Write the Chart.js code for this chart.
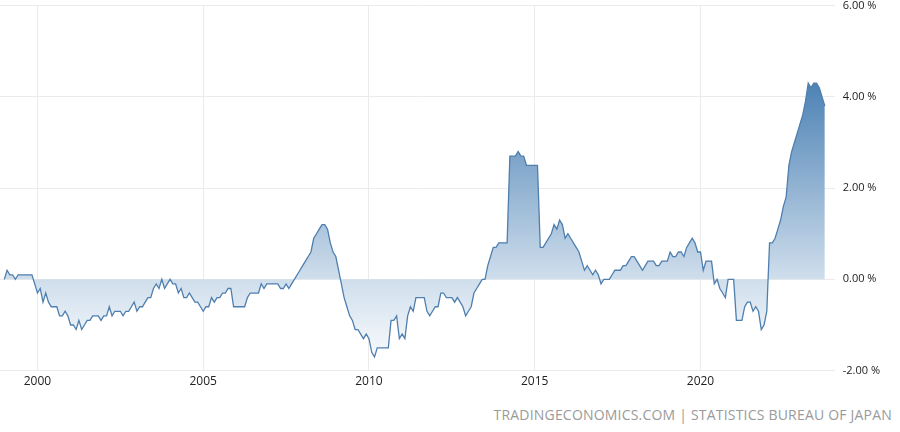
<!DOCTYPE html>
<html>
<head>
<meta charset="utf-8">
<script src="https://cdn.jsdelivr.net/npm/chart.js@4"></script>
<style>
  body { margin: 0; background: #fff; font-family: "Open Sans", sans-serif; overflow: hidden; }
  #wrap { position: relative; width: 900px; height: 432px; overflow: hidden; }
  #box { position: absolute; left: 0; top: -9px; width: 900px; height: 402px; }
  #src { position: absolute; right: 8px; top: 405px; font-size: 14px; color: #9a9a9a; letter-spacing: 0.2px; }
</style>
</head>
<body>
<div id="wrap">
  <div id="box"><canvas id="chart"></canvas></div>
  <div id="src">TRADINGECONOMICS.COM | STATISTICS BUREAU OF JAPAN</div>
</div>
<script>
// monthly values, Jan 1999 .. Oct 2023
var startYear = 1999;
var values = [
  0.0, 0.2, 0.1, 0.1, 0.0, 0.1, 0.1, 0.1, 0.1, 0.1, 0.1, -0.1,
  -0.3, -0.2, -0.5, -0.3, -0.5, -0.6, -0.6, -0.6, -0.8, -0.8, -0.7, -0.8,
  -1.0, -1.0, -1.1, -0.9, -1.1, -1.0, -0.9, -0.9, -0.8, -0.8, -0.8, -0.9,
  -0.8, -0.8, -0.6, -0.8, -0.7, -0.7, -0.7, -0.8, -0.7, -0.7, -0.6, -0.5,
  -0.7, -0.6, -0.6, -0.5, -0.4, -0.4, -0.2, -0.1, -0.2, 0.0, -0.2, -0.1,
  0.0, -0.1, -0.1, -0.3, -0.2, -0.4, -0.4, -0.3, -0.4, -0.5, -0.5, -0.6,
  -0.7, -0.6, -0.6, -0.4, -0.5, -0.4, -0.4, -0.3, -0.3, -0.2, -0.2, -0.6,
  -0.6, -0.6, -0.6, -0.6, -0.4, -0.3, -0.3, -0.3, -0.3, -0.1, -0.2, -0.1,
  -0.1, -0.1, -0.1, -0.1, -0.2, -0.2, -0.1, -0.2, -0.1, 0.0, 0.1, 0.2,
  0.3, 0.4, 0.5, 0.6, 0.9, 1.0, 1.1, 1.2, 1.2, 1.1, 0.8, 0.6,
  0.5, 0.2, -0.1, -0.4, -0.6, -0.8, -0.9, -1.1, -1.1, -1.2, -1.3, -1.2,
  -1.3, -1.6, -1.7, -1.5, -1.5, -1.5, -1.5, -1.5, -0.9, -0.9, -0.8, -1.3,
  -1.2, -1.3, -0.8, -0.6, -0.7, -0.4, -0.4, -0.4, -0.4, -0.7, -0.8, -0.7,
  -0.6, -0.6, -0.3, -0.3, -0.4, -0.4, -0.4, -0.5, -0.4, -0.5, -0.6, -0.8,
  -0.7, -0.6, -0.3, -0.2, -0.1, 0.0, 0.0, 0.3, 0.5, 0.7, 0.7, 0.8,
  0.8, 0.8, 0.8, 2.7, 2.7, 2.7, 2.8, 2.7, 2.7, 2.5, 2.5, 2.5,
  2.5, 2.5, 0.7, 0.7, 0.8, 0.9, 1.0, 1.2, 1.1, 1.3, 1.2, 0.9,
  1.0, 0.9, 0.8, 0.7, 0.6, 0.4, 0.2, 0.3, 0.2, 0.1, 0.2, 0.1,
  -0.1, 0.0, 0.0, 0.0, 0.1, 0.2, 0.2, 0.2, 0.3, 0.3, 0.4, 0.5,
  0.5, 0.4, 0.3, 0.2, 0.3, 0.4, 0.4, 0.4, 0.3, 0.3, 0.4, 0.4,
  0.4, 0.6, 0.5, 0.5, 0.6, 0.6, 0.5, 0.7, 0.8, 0.9, 0.8, 0.6,
  0.6, 0.2, 0.4, 0.4, 0.4, -0.1, 0.0, -0.2, -0.3, -0.4, 0.0, 0.0,
  0.0, -0.9, -0.9, -0.9, -0.6, -0.5, -0.5, -0.7, -0.6, -0.7, -1.1, -1.0,
  -0.7, 0.8, 0.8, 0.9, 1.1, 1.3, 1.6, 1.8, 2.5, 2.8, 3.0, 3.2,
  3.4, 3.6, 3.9, 4.3, 4.2, 4.3, 4.3, 4.2, 4.0, 3.8
];
var yearTicks = [2000, 2005, 2010, 2015, 2020];
var yTicks = [-2, 0, 2, 4, 6];

var points = values.map(function(v, i) {
  return { x: startYear + i / 12, y: v };
});

document.addEventListener('DOMContentLoaded', function() {
  var ctx = document.getElementById('chart').getContext('2d');
  new Chart(ctx, {
    type: 'line',
    data: {
      datasets: [{
        data: points,
        borderColor: '#4e7fae',
        borderWidth: 1.3,
        pointRadius: 0,
        tension: 0,
        fill: 'origin',
        backgroundColor: function(context) {
          var area = context.chart.chartArea;
          if (!area) return 'rgba(70,130,180,0.4)';
          var g = context.chart.ctx.createLinearGradient(0, area.top, 0, area.bottom);
          g.addColorStop(0.0, '#2f6aa3');
          g.addColorStop(0.2, '#4a80b4');
          g.addColorStop(0.75, '#cfdeec');
          g.addColorStop(1.0, '#ffffff');
          return g;
        }
      }]
    },
    options: {
      responsive: true,
      maintainAspectRatio: false,
      animation: false,
      layout: { padding: { top: 2, left: 0, right: 12 } },
      plugins: { legend: { display: false }, tooltip: { enabled: false } },
      scales: {
        x: {
          type: 'linear',
          min: 1998.87,
          max: 2024.05,
          afterBuildTicks: function(axis) {
            axis.ticks = yearTicks.map(function(v) { return { value: v }; });
          },
          ticks: { color: '#222', font: { size: 12, family: 'Open Sans' }, padding: 4, maxRotation: 0,
                   callback: function(v) { return String(v); } },
          grid: { color: '#ebebeb', drawTicks: false },
          border: { display: false }
        },
        y: {
          position: 'right',
          min: -2,
          max: 6,
          afterBuildTicks: function(axis) {
            axis.ticks = yTicks.map(function(v) { return { value: v }; });
          },
          ticks: { color: '#222', font: { size: 11, family: 'Open Sans' }, padding: 8,
                   callback: function(v) { return v.toFixed(2) + ' %'; } },
          grid: { color: '#ebebeb', drawTicks: false },
          border: { display: false }
        }
      }
    }
  });
});
</script>
</body>
</html>
